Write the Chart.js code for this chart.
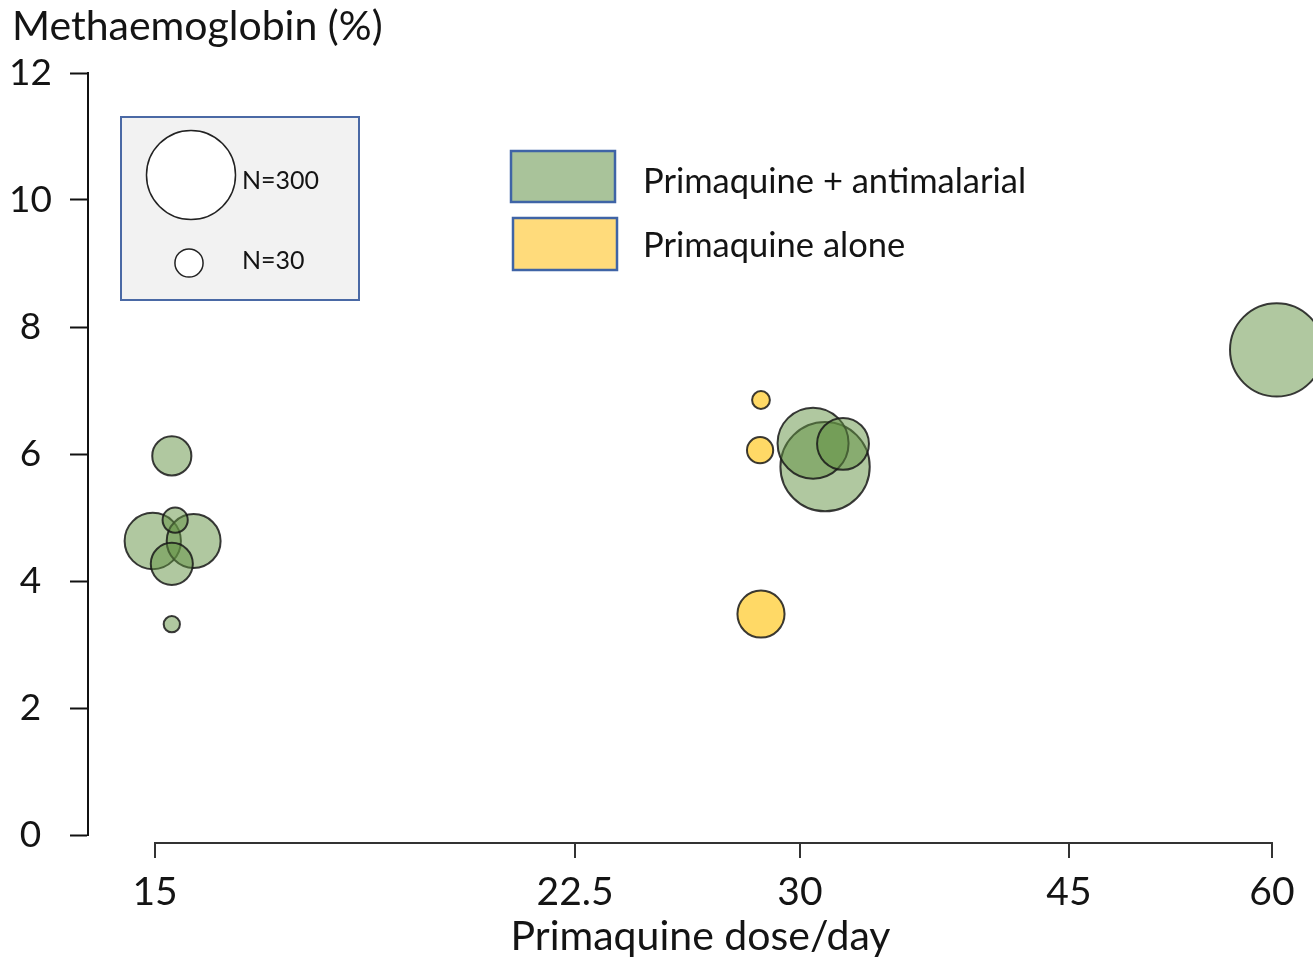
<!DOCTYPE html>
<html>
<head>
<meta charset="utf-8">
<title>Methaemoglobin vs primaquine dose</title>
<script src="https://cdn.jsdelivr.net/npm/chart.js"></script>
<style>
  html, body { margin: 0; padding: 0; background: #fff; }
  #wrap { width: 1313px; height: 958px; }
</style>
</head>
<body>
<div id="wrap"><canvas id="grafico" width="1313" height="958"></canvas></div>
<script>
// ======== dados ========
const doseTicks = [15, 22.5, 30, 45, 60];

// Primaquine + antimalarial
const comboDose  = [14.96, 15.69, 15.30, 15.36, 15.30, 15.30, 31.40, 30.73, 32.40, 60.35];
const comboMetHb = [4.63, 4.63, 5.97, 4.96, 4.27, 3.32, 5.80, 6.17, 6.16, 7.64];
const comboN     = [120, 110, 58, 24, 67, 10, 302, 191, 102, 330];

// Primaquine alone
const aloneDose  = [28.70, 28.67, 28.70];
const aloneMetHb = [6.85, 6.06, 3.48];
const aloneN     = [12, 26, 84];

// tamanhos de referência da legenda
const legendN = [300, 30];

// raio proporcional à área (N)
const raio = (n) => 2.57 * Math.sqrt(n);

// ======== eixo x não linear (posições dos ticks no desenho) ========
const doseFrac = [0.0547, 0.3976, 0.5812, 0.8008, 0.9665];

class DoseScale extends Chart.LinearScale {
    getPixelForValue(value) {
        if (value === null || value === undefined) return NaN;
        let i = 0;
        while (i < doseTicks.length - 2 && value > doseTicks[i + 1]) i++;
        const t = doseFrac[i] + (value - doseTicks[i]) / (doseTicks[i + 1] - doseTicks[i]) * (doseFrac[i + 1] - doseFrac[i]);
        return this.getPixelForDecimal(t);
    }
    getValueForPixel(pixel) {
        const t = this.getDecimalForPixel(pixel);
        let i = 0;
        while (i < doseFrac.length - 2 && t > doseFrac[i + 1]) i++;
        return doseTicks[i] + (t - doseFrac[i]) / (doseFrac[i + 1] - doseFrac[i]) * (doseTicks[i + 1] - doseTicks[i]);
    }
}
DoseScale.id = 'dose';
DoseScale.defaults = Chart.LinearScale.defaults;
Chart.register(DoseScale);

const fonte = 'Lato';
const corTexto = '#141414';

// Eixo x, título e legendas
const desenhoExtra = {
    id: 'desenhoExtra',
    beforeDatasetsDraw(chart) {
        const { ctx, chartArea, scales: { x } } = chart;
        const yLinha = chartArea.bottom + 8;
        ctx.save();
        ctx.strokeStyle = '#333';
        ctx.lineWidth = 2;
        ctx.beginPath();
        ctx.moveTo(x.getPixelForValue(doseTicks[0]) - 1, yLinha);
        ctx.lineTo(x.getPixelForValue(doseTicks[doseTicks.length - 1]) + 1, yLinha);
        doseTicks.forEach(v => {
            const px = Math.round(x.getPixelForValue(v));
            ctx.moveTo(px, yLinha);
            ctx.lineTo(px, yLinha + 15);
        });
        ctx.stroke();
        ctx.restore();
    },
    afterDraw(chart) {
        const { ctx } = chart;
        ctx.save();
        ctx.fillStyle = corTexto;
        ctx.textBaseline = 'middle';
        ctx.textAlign = 'left';
        ctx.font = `41px ${fonte}`;
        ctx.fillText('Methaemoglobin (%)', 12, 27);

        // legenda de tamanho
        ctx.fillStyle = '#f2f2f2';
        ctx.fillRect(121, 117, 238, 183);
        ctx.strokeStyle = '#4a69a5';
        ctx.lineWidth = 2;
        ctx.strokeRect(121, 117, 238, 183);
        const centros = [[191, 175], [189, 263]];
        legendN.forEach((n, i) => {
            ctx.beginPath();
            ctx.arc(centros[i][0], centros[i][1], raio(n), 0, Math.PI * 2);
            ctx.fillStyle = '#fff';
            ctx.fill();
            ctx.strokeStyle = '#222';
            ctx.lineWidth = 1.5;
            ctx.stroke();
        });
        ctx.fillStyle = corTexto;
        ctx.font = `25px ${fonte}`;
        ctx.fillText('N=' + legendN[0], 242, 181);
        ctx.fillText('N=' + legendN[1], 242, 261);

        // legenda de cores
        ctx.lineWidth = 2.5;
        ctx.strokeStyle = '#3f64a6';
        ctx.fillStyle = '#a9c39a';
        ctx.fillRect(511, 151, 104, 51);
        ctx.strokeRect(511, 151, 104, 51);
        ctx.fillStyle = '#ffdb7b';
        ctx.fillRect(513, 218, 104, 52);
        ctx.strokeRect(513, 218, 104, 52);
        ctx.fillStyle = corTexto;
        ctx.font = `34.5px ${fonte}`;
        ctx.fillText(chart.data.datasets[0].label, 643, 182);
        ctx.fillText(chart.data.datasets[1].label, 643, 246);
        ctx.restore();
    }
};

const ctxBolhas = document.getElementById('grafico').getContext('2d');
new Chart(ctxBolhas, {
    type: 'bubble',
    data: {
        datasets: [
            {
                label: 'Primaquine + antimalarial',
                data: comboDose.map((x, i) => ({ x: x, y: comboMetHb[i], r: raio(comboN[i]) })),
                backgroundColor: 'rgba(97, 145, 65, 0.5)',
                borderColor: 'rgba(25, 25, 25, 0.85)',
                borderWidth: 2,
                clip: false
            },
            {
                label: 'Primaquine alone',
                data: aloneDose.map((x, i) => ({ x: x, y: aloneMetHb[i], r: raio(aloneN[i]) })),
                backgroundColor: '#ffd966',
                borderColor: 'rgba(25, 25, 25, 0.85)',
                borderWidth: 2,
                clip: false
            }
        ]
    },
    options: {
        responsive: false,
        animation: false,
        devicePixelRatio: 1,
        layout: { autoPadding: false, padding: { top: 73, left: 0, right: 0, bottom: 0 } },
        plugins: {
            legend: { display: false },
            title: { display: false },
            tooltip: { enabled: false }
        },
        scales: {
            x: {
                type: 'dose',
                position: 'bottom',
                grid: { display: false, drawTicks: false },
                border: { display: false },
                afterBuildTicks: (scale) => { scale.ticks = doseTicks.map(v => ({ value: v })); },
                afterFit: (scale) => { scale.height = 123; scale.paddingLeft = 0; scale.paddingRight = 0; },
                ticks: {
                    autoSkip: false,
                    maxRotation: 0,
                    padding: 34,
                    color: corTexto,
                    font: { family: fonte, size: 39 },
                    callback: (v) => String(v)
                },
                title: {
                    display: true,
                    text: 'Primaquine dose/day',
                    color: corTexto,
                    font: { family: fonte, size: 41, lineHeight: 1.05 },
                    padding: 0
                }
            },
            y: {
                min: 0,
                max: 12,
                grid: { drawOnChartArea: false, tickLength: 18, tickColor: '#111', tickWidth: 2 },
                border: { color: '#111', width: 2 },
                afterFit: (scale) => { scale.width = 88; scale.paddingTop = 0; scale.paddingBottom = 0; },
                ticks: {
                    stepSize: 2,
                    padding: 18,
                    crossAlign: 'center',
                    color: corTexto,
                    font: { family: fonte, size: 37 }
                }
            }
        }
    },
    plugins: [desenhoExtra]
});
</script>
</body>
</html>
